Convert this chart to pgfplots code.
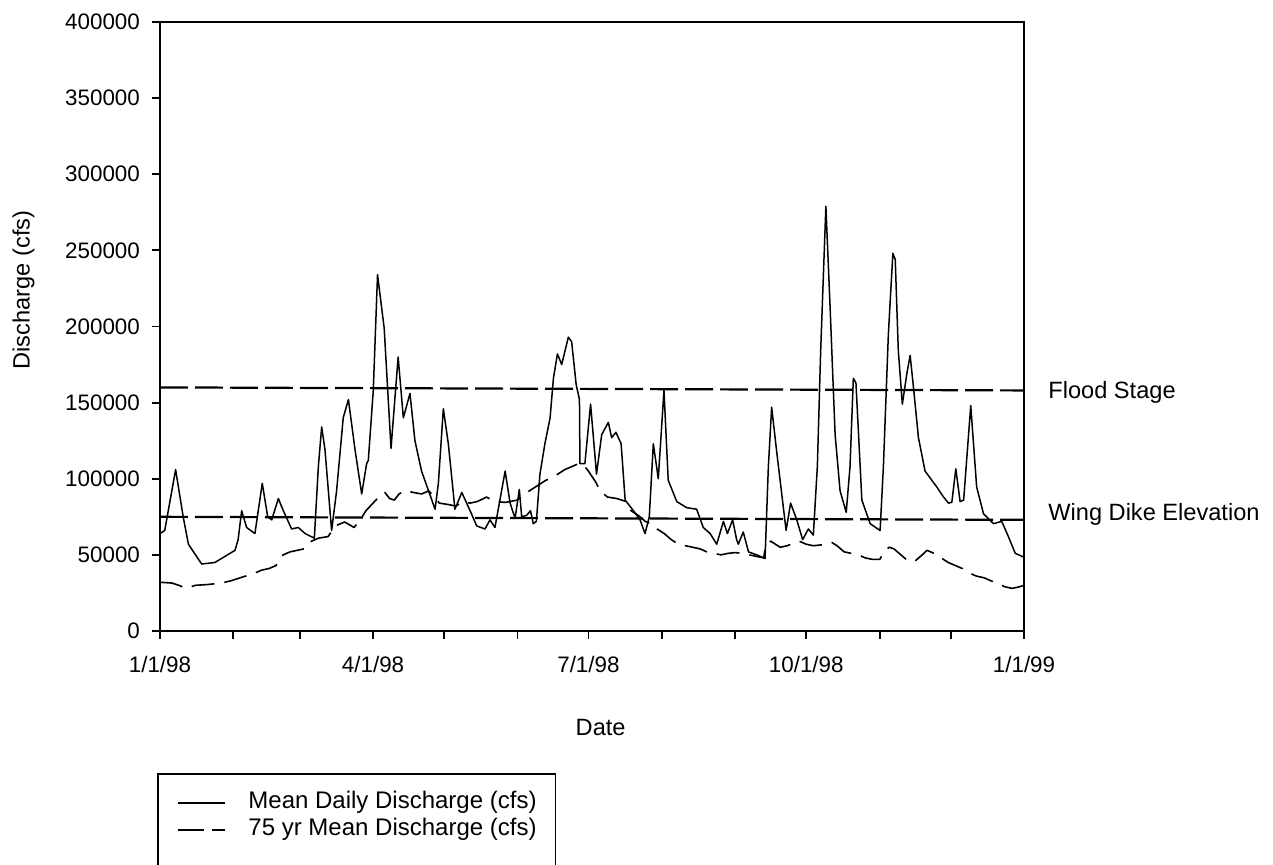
\documentclass[border=0pt]{standalone}
\usepackage{fontspec}
\setmainfont{Liberation Sans}
\usepackage{pgfplots}
\pgfplotsset{compat=1.18}
\pgfplotstableread{
day q
0 64000
2 66000
6.6 106000
9.8 75000
12 57000
17.6 44000
23.2 45000
31.7 53000
33 60000
34.5 79000
36.6 68000
40.1 64000
43.2 97000
45.5 75000
47.2 73000
50 87000
52.1 79000
55.6 67000
58.4 68000
61.3 64000
65.2 61000
66.9 108000
68.3 134000
69.7 119000
72.5 66000
74.6 92000
77.4 140000
79.6 152000
82.4 119000
85.2 90000
87.3 110000
88 112000
90.1 158000
91.9 234000
94.7 199000
97.6 120000
100.6 180000
102.8 140000
105.6 156000
107.7 125000
110.5 105000
116.2 80000
117.6 97000
119.7 146000
121.8 123000
124.6 80000
127.5 91000
131 79000
133.8 69000
137.3 67000
139.4 73000
141.5 68000
145.8 105000
147.9 84000
150 74000
151.8 93000
152.8 75000
154.9 76000
156.5 79000
157.7 70500
159 72000
160.5 103000
162.6 123000
164.8 140000
166.2 166000
167.9 182000
169.7 175000
172.5 193000
173.9 190000
175.8 162000
177.2 152000
177.4 110000
179.5 110000
181.9 149000
184.4 103000
186.6 129000
189.4 137000
190.8 127000
192.6 130500
194.8 123000
196.5 86000
200 79000
202.8 73000
204.9 64000
206.7 75000
208.4 123000
210.5 100000
212.9 158000
214.7 99000
218.3 85000
222.5 81000
226.7 80000
229.5 68000
232.4 64000
235.2 57000
238 72000
239.7 64000
241.9 73000
243.6 60000
244.3 57000
246.4 65000
248.6 52000
252.1 50000
255.6 47600
257 108000
258.4 147000
260.5 118000
264.5 66000
266.4 84000
269 73000
271.5 60000
273.9 67000
276 63000
277.7 108000
279.1 184000
281.3 279000
283.1 212000
285.2 129000
287.3 92000
289.9 78000
291.5 108000
292.9 166000
294 163000
296.5 86000
300 70500
304.2 66000
305.6 108000
307.7 195000
309.6 248000
310.6 244000
311.9 184000
313.6 149000
315.5 169000
316.9 181000
318.3 160000
320.4 127000
323.2 105000
328.2 94500
331 88000
333.1 84000
334.5 84500
336.2 106500
338 85000
339.5 86000
342.5 148000
345 94500
347.9 77000
352.1 70500
355.6 72000
358.4 62000
361.3 51000
364.8 48600
}\daily
\pgfplotstableread{
day q
0 32000
5 31500
8 30000
11 28000
15 30000
20 30500
26 31500
30 33000
35 35500
40 38000
43 40000
46 41000
49 43000
52 50000
55 52000
58 53000
61 54000
64 59000
67 61000
71 62000
74 69000
78 71600
82 68000
85 74000
87 79000
90 84000
93 89000
95 91000
97 87000
99 86000
101 90000
103.5 92300
107 91000
110.5 90000
113.5 92000
116 88000
118 84000
122 83000
125 82000
128 85000
131 84000
134 85000
138 88000
141 85000
146 84500
151 86000
154 90000
157 93000
160 96000
163 99000
166 101000
168 103000
171 106000
174 108000
177 110000
179 109000
181 105000
184 98000
186 92000
189 88000
193 87000
197 85000
199 79000
202 76000
205 72000
208 70000
210 67000
213 64000
216 60000
219 57000
222 56000
225 55000
228 54000
231 52000
234 51000
237 50000
240 51000
243 51500
246 51000
249 50000
252 49000
255 48000
256 57000
258 59000
260 57000
262 55000
265 56000
268 58000
270 59000
273 57000
276 56000
279 56500
282 57000
284 58000
286 56000
289 52000
292 51000
295 50000
298 48000
301 47000
304 47000
306 52000
308 55000
310 54000
313 50000
316 46000
319 46000
322 50000
324 53000
327 51000
330 48000
333 45000
336 43000
339 41000
342 38000
345 36000
348 35000
351 33000
354 31000
357 29000
360 28000
363 29000
365 30000
}\longmean
\pgfplotstableread{
day q
0 160000
365 158000
}\flood
\pgfplotstableread{
day q
0 75000
365 73000
}\wing
\begin{document}
\begin{tikzpicture}
\begin{axis}[
  at={(0,0)}, anchor=south west,
  width=432pt, height=304.5pt, scale only axis,
  xmin=0, xmax=365, ymin=0, ymax=400000,
  xtick={0,31,59,90,120,151,181,212,243,273,304,334,365},
  xticklabels={1/1/98,,,4/1/98,,,7/1/98,,,10/1/98,,,1/1/99},
  ytick={0,50000,100000,150000,200000,250000,300000,350000,400000},
  yticklabels={0,50000,100000,150000,200000,250000,300000,350000,400000},
  scaled y ticks=false,
  tick label style={font=\fontsize{11.2}{13}\selectfont},
  xticklabel style={yshift=-5pt},
  yticklabel style={xshift=-2.5pt},
  tick align=outside, major tick length=4pt,
  xtick pos=bottom, ytick pos=left,
  tick style={line width=0.9pt, black},
  axis line style={line width=1pt},
  clip=false,
  xlabel={Date},
  ylabel={Discharge (cfs)},
  label style={font=\fontsize{11.8}{14}\selectfont},
  xlabel style={at={(axis description cs:0.51,-0.158)}, anchor=center},
  ylabel style={at={(axis description cs:-0.158,0.56)}, anchor=center, rotate=0},
  legend cell align=left,
  legend style={at={(axis description cs:-0.0035,-0.2332)}, anchor=north west,
    draw=black, line width=0.9pt, inner xsep=9.5pt, inner ysep=9pt,
    font=\fontsize{12}{13}\selectfont,
    nodes={inner sep=0pt, text height=8.5pt, text depth=2.5pt},
    row sep=2.5pt, column sep=11.5pt},
]
\addplot[black, line width=1.1pt, forget plot, dash pattern=on 14pt off 3.5pt] table[x=day,y=q] {\flood};
\addplot[black, line width=1.1pt, forget plot, dash pattern=on 14pt off 3.5pt] table[x=day,y=q] {\wing};
\addplot[black, line width=0.75pt, line join=round, legend image code/.code={\draw[black, line width=0.75pt] (0pt,0pt) -- (23.5pt,0pt);}] table[x=day,y=q] {\daily};
\addlegendentry{Mean Daily Discharge (cfs)}
\addplot[black, line width=0.8pt, line join=round, dash pattern=on 11.5pt off 5pt, legend image code/.code={\draw[black, line width=0.8pt, dash pattern=on 13pt off 4pt on 6.5pt off 10pt] (0pt,0pt) -- (23.5pt,0pt);}] table[x=day,y=q] {\longmean};
\addlegendentry{75 yr Mean Discharge (cfs)}
\addlegendimage{empty legend}
\addlegendentry{}
\node[anchor=base west, inner sep=0pt, font=\fontsize{11.8}{14}\selectfont] at (axis cs:365,152400) [xshift=12pt] {Flood Stage};
\node[anchor=base west, inner sep=0pt, font=\fontsize{11.8}{14}\selectfont] at (axis cs:365,72900) [xshift=12pt] {Wing Dike Elevation};
\end{axis}
\pgfresetboundingbox
\useasboundingbox (-80pt,-117pt) rectangle (556.5pt,315.5pt);
\end{tikzpicture}
\end{document}
